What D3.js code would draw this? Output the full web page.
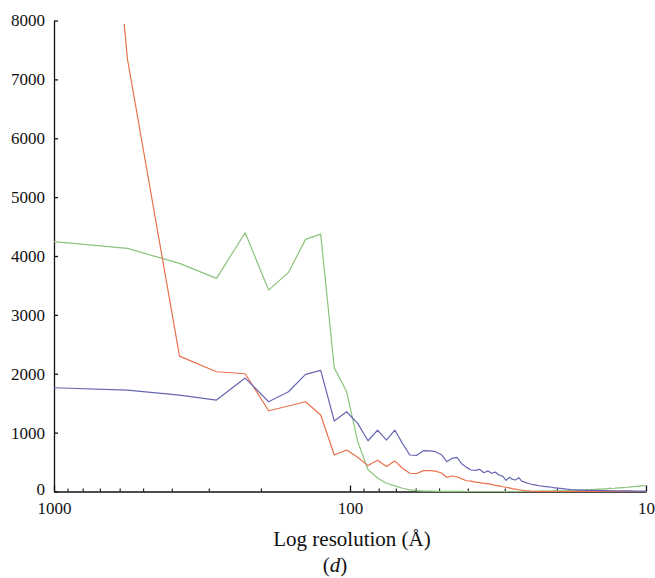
<!DOCTYPE html>
<html>
<head>
<meta charset="utf-8">
<script src="https://cdn.jsdelivr.net/npm/d3@7"></script>
<style>
  html, body { margin: 0; padding: 0; background: #fff; }
  svg { display: block; }
</style>
</head>
<body>
<script>
// Resolution (Å) of each shell
const resolution = [1130, 565, 376.7, 282.5, 226, 188.3, 161.4, 141.3, 125.6, 113,
  102.7, 94.2, 86.9, 80.7, 75.3, 70.6, 66.5, 62.8, 59.5, 56.5,
  53.8, 51.4, 49.1, 47.1, 45.2, 43.5, 41.9, 40.4, 39.0, 37.7,
  36.5, 35.3, 34.2, 33.2, 32.3, 31.4, 30.5, 29.7, 29.0, 28.3,
  27.6, 26.9, 26.3, 25.7, 25.1, 24.6, 24.0, 23.5, 23.1, 22.6,
  22.2, 21.7, 21.3, 20.9, 20.5, 20.2, 19.8, 19.5, 19.2, 18.8,
  18.5, 18.2, 17.9, 17.7, 17.4, 17.1, 16.9, 16.6, 16.4, 16.1,
  15.9, 15.7, 15.5, 15.3, 15.1, 14.9, 14.7, 14.5, 14.3, 14.1,
  14.0, 13.8, 13.6, 13.5, 13.3, 13.1, 13.0, 12.8, 12.7, 12.6,
  12.4, 12.3, 12.2, 12.0, 11.9, 11.8, 11.6, 11.5, 11.4, 11.3,
  11.2, 11.1, 11.0, 10.9, 10.8, 10.7, 10.6, 10.5, 10.4, 10.3,
  10.2, 10.1, 10.0];

const blueValues = [1771, 1723, 1638, 1553, 1927, 1525, 1694, 1990, 2058, 1197,
  1355, 1158, 862, 1044, 874, 1044, 818, 620, 615, 693,
  690, 676, 625, 506, 563, 580, 470, 410, 365, 360,
  377, 319, 350, 309, 330, 280, 260, 190, 241, 210,
  195, 234, 175, 160, 140, 127, 118, 108, 100, 93,
  88, 82, 77, 72, 65, 60, 57, 54, 50, 45,
  40, 37, 33, 30, 28, 25, 27, 22, 24, 20,
  22, 19, 21, 18, 20, 17, 19, 16, 18, 15,
  17, 15, 16, 14, 15, 13, 14, 12, 13, 12,
  12, 11, 12, 10, 11, 10, 10, 9, 10, 9,
  9, 8, 9, 8, 8, 8, 7, 8, 7, 7,
  8, 7, 8];

const orangeValues = [24000, 7350, 2300, 2034, 2000, 1372, 1452, 1525, 1299, 620,
  705, 581, 440, 530, 425, 520, 394, 310, 305, 355,
  353, 345, 315, 241, 263, 251, 215, 183, 175, 160,
  150, 139, 130, 120, 105, 95, 81, 72, 62, 50,
  40, 30, 22, 15, 10, 6, 4, 3, 2, 2,
  1, 1, 1, 0, 1, 0, 1, 0, 0, 1,
  0, 0, 1, 0, 0, 0, 1, 0, 0, 0,
  0, 1, 0, 0, 0, 0, 0, 1, 0, 0,
  0, 0, 0, 0, 1, 0, 0, 0, 0, 0,
  0, 0, 0, 1, 0, 0, 0, 0, 0, 0,
  0, 0, 0, 0, 0, 0, 0, 0, 0, 0,
  0, 0, 0];

const greenValues = [4267, 4129, 3874, 3620, 4394, 3421, 3721, 4282, 4372, 2100,
  1700, 850, 370, 230, 140, 95, 55, 28, 15, 8,
  5, 3, 2, 2, 1, 1, 1, 0, 0, 0,
  0, 0, 0, 0, 0, 0, 0, 0, 0, 0,
  0, 1, 0, 1, 2, 1, 3, 2, 4, 5,
  6, 5, 8, 7, 10, 9, 12, 11, 14, 13,
  16, 15, 18, 17, 20, 22, 21, 24, 23, 26,
  28, 27, 30, 35, 33, 37, 36, 39, 41, 40,
  43, 45, 44, 48, 52, 54, 51, 55, 58, 57,
  60, 63, 61, 66, 68, 67, 72, 75, 73, 80,
  78, 82, 85, 83, 88, 90, 87, 92, 96, 94,
  100, 98, 95];

const yTicks = [0, 1000, 2000, 3000, 4000, 5000, 6000, 7000, 8000];
const xMajorTicks = [1000, 100, 10];
const xMinorTicks = [900, 800, 700, 600, 500, 400, 300, 200, 90, 80, 70, 60, 50, 40, 30, 20];
const xTitle = "Log resolution (Å)";

(function () {
  const W = 655, H = 578;
  const mLeft = 54, mRight = 646, mTop = 20.5, mBottom = 491.5;

  const svg = d3.select("body").append("svg").attr("width", W).attr("height", H);

  const x = d3.scaleLog().domain([1000, 10]).range([mLeft, mRight]);
  const y = d3.scaleLinear().domain([0, 8000]).range([mBottom, mTop]);

  svg.append("defs").append("clipPath").attr("id", "plot")
    .append("rect").attr("x", mLeft).attr("y", 24).attr("width", mRight - mLeft + 1).attr("height", mBottom - 24 + 3);

  const font = "'Liberation Serif', 'Times New Roman', serif";

  const series = [
    { name: "green", values: greenValues, color: "#8cc47c" },
    { name: "orange", values: orangeValues, color: "#e8714c" },
    { name: "blue", values: blueValues, color: "#6767b3" }
  ];

  // Y axis
  const yAxis = svg.append("g").attr("transform", `translate(${mLeft},0)`)
    .call(d3.axisLeft(y).tickValues(yTicks).tickFormat(d3.format("d")).tickSize(-4).tickSizeOuter(0).tickPadding(9));
  yAxis.attr("font-family", font);
  yAxis.selectAll("text").attr("font-size", 17).attr("font-family", font).attr("fill", "#111")
    .attr("dy", d => d === 0 ? "0.18em" : "0.32em");
  yAxis.selectAll("line, path").attr("stroke", "#111").attr("stroke-width", 1.3);

  // X axis major
  const xAxis = svg.append("g").attr("transform", `translate(0,${mBottom})`)
    .call(d3.axisBottom(x).tickValues(xMajorTicks).tickFormat(d3.format("d")).tickSize(-6).tickSizeOuter(0).tickPadding(10));
  xAxis.attr("font-family", font);
  xAxis.selectAll("text").attr("font-size", 17).attr("font-family", font).attr("fill", "#111");
  xAxis.selectAll("line, path").attr("stroke", "#111").attr("stroke-width", 1.3);

  // X axis minor
  const xMinor = svg.append("g").attr("transform", `translate(0,${mBottom})`)
    .call(d3.axisBottom(x).tickValues(xMinorTicks).tickFormat("").tickSize(-3).tickSizeOuter(0));
  xMinor.select("path").remove();
  xMinor.selectAll("line").attr("stroke", "#111").attr("stroke-width", 1.1);

  const line = d3.line().x((d, i) => x(resolution[i])).y(d => y(d));

  const plot = svg.append("g").attr("clip-path", "url(#plot)");
  series.forEach(s => {
    plot.append("path").datum(s.values)
      .attr("d", line)
      .attr("fill", "none")
      .attr("stroke", s.color)
      .attr("stroke-width", 1.2)
      .attr("stroke-linejoin", "round");
  });

  svg.append("text").attr("x", 352).attr("y", 546).attr("text-anchor", "middle")
    .attr("font-family", font).attr("font-size", 21).attr("fill", "#111").text(xTitle);

  const lab = svg.append("text").attr("x", 335).attr("y", 572).attr("text-anchor", "middle")
    .attr("font-family", font).attr("font-size", 21).attr("fill", "#111");
  lab.append("tspan").text("(");
  lab.append("tspan").attr("font-style", "italic").text("d");
  lab.append("tspan").text(")");
})();
</script>
</body>
</html>
